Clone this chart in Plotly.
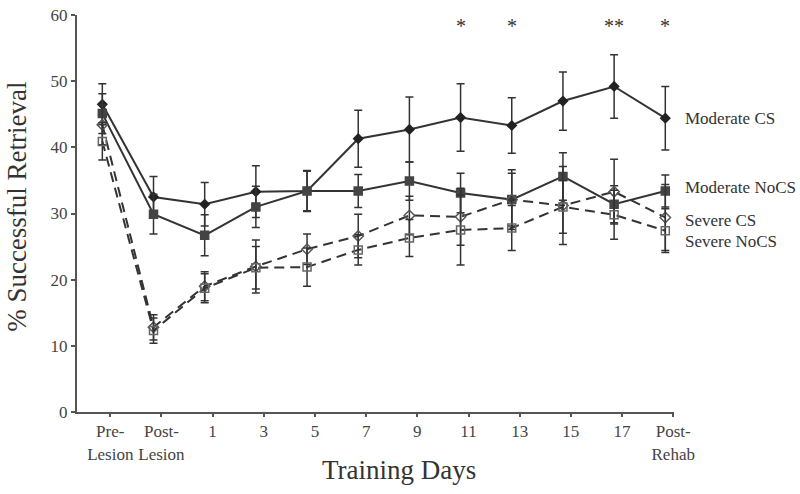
import plotly.graph_objects as go

# ---- data ----
categories = ["Pre-<br>Lesion", "Post-<br>Lesion", "1", "3", "5", "7", "9", "11", "13", "15", "17", "Post-<br>Rehab"]

moderate_cs = [46.5, 32.5, 31.4, 33.3, 33.4, 41.3, 42.7, 44.5, 43.3, 47.0, 49.2, 44.4]
moderate_cs_err = [3.1, 3.1, 3.3, 3.9, 3.1, 4.3, 4.9, 5.1, 4.2, 4.4, 4.8, 4.8]

moderate_nocs = [45.1, 29.9, 26.7, 31.0, 33.4, 33.4, 34.9, 33.1, 32.1, 35.6, 31.4, 33.4]
moderate_nocs_err = [3.0, 3.0, 3.1, 3.1, 3.0, 2.5, 2.9, 3.0, 4.0, 3.6, 2.8, 2.4]

severe_cs = [43.4, 12.8, 19.0, 22.0, 24.6, 26.6, 29.7, 29.5, 32.1, 31.2, 33.3, 29.4]
severe_cs_err = [3.0, 1.9, 2.2, 4.0, 2.3, 3.3, 2.9, 4.3, 4.5, 5.9, 4.9, 5.0]

severe_nocs = [40.9, 12.3, 18.7, 21.8, 21.9, 24.5, 26.3, 27.5, 27.8, 31.0, 29.8, 27.4]
severe_nocs_err = [2.8, 1.9, 2.2, 3.2, 2.9, 2.3, 2.8, 5.3, 3.4, 4.0, 3.7, 3.3]

series_names = ["Moderate CS", "Moderate NoCS", "Severe CS", "Severe NoCS"]
# vertical placement of end labels (axis units)
label_y = [44.3, 34.0, 28.9, 25.8]

# significance markers
sig_categories = [7, 8, 10, 11]
sig_text = ["*", "*", "**", "*"]

x_idx = list(range(len(categories)))

fig = go.Figure()

font_family = "Liberation Serif, Times New Roman, serif"
ink = "#333333"

specs = [
    (moderate_cs, moderate_cs_err, "solid", "diamond", 7, "#222222"),
    (moderate_nocs, moderate_nocs_err, "solid", "square", 8, "#444444"),
    (severe_cs, severe_cs_err, "10px,6px", "diamond-open", 8, "#555555"),
    (severe_nocs, severe_nocs_err, "10px,6px", "square-open", 8, "#666666"),
]

for name, (vals, errs, dash, sym, size, mcol) in zip(series_names, specs):
    fig.add_trace(go.Scatter(
        x=x_idx, y=vals, name=name, mode="lines+markers",
        line=dict(color="#333333", width=2, dash=dash),
        marker=dict(symbol=sym, size=size, color=mcol, line=dict(color=mcol, width=1.5)),
        error_y=dict(type="data", array=errs, visible=True, thickness=1.5, width=4, color="#333333"),
        showlegend=False,
    ))

# end-of-line labels
for name, ly in zip(series_names, label_y):
    fig.add_annotation(x=1.015, y=ly, xref="paper", yref="y", text=name, showarrow=False,
                       xanchor="left", yanchor="middle",
                       font=dict(family=font_family, size=17, color=ink))

# asterisks
for ci, t in zip(sig_categories, sig_text):
    fig.add_annotation(x=ci, y=58.3, xref="x", yref="y", text=t, showarrow=False,
                       xanchor="center", yanchor="middle",
                       font=dict(family=font_family, size=20, color="#333333"))

# axis titles
fig.add_annotation(x=0.539, y=-0.146, xref="paper", yref="paper", text="Training Days",
                   showarrow=False, xanchor="center", yanchor="middle",
                   font=dict(family=font_family, size=27, color=ink))
fig.add_annotation(x=-0.101, y=0.516, xref="paper", yref="paper", text="% Successful Retrieval",
                   showarrow=False, xanchor="center", yanchor="middle", textangle=-90,
                   font=dict(family=font_family, size=27, color=ink))

fig.update_layout(
    template="none",
    width=800, height=494,
    margin=dict(l=77, r=126, t=15, b=82, pad=0, autoexpand=False),
    paper_bgcolor="white", plot_bgcolor="white",
    font=dict(family=font_family, size=17, color=ink),
    xaxis=dict(
        range=[-0.495, 11.17],
        tickmode="array",
        tickvals=[i + 0.155 for i in x_idx],
        ticktext=categories,
        showline=True, linecolor="#555555", linewidth=2,
        ticks="outside", ticklen=3, tickwidth=1.5, tickcolor="#555555",
        showgrid=False, zeroline=False, ticklabeloverflow="allow", automargin=False,
        tickfont=dict(family=font_family, size=17, color="#444444"),
    ),
    yaxis=dict(
        range=[0, 60],
        tickmode="array", tickvals=[0, 10, 20, 30, 40, 50, 60],
        showline=True, linecolor="#555555", linewidth=2,
        ticks="outside", ticklen=4, tickwidth=1.5, tickcolor="#555555",
        showgrid=False, zeroline=False, ticklabeloverflow="allow", automargin=False,
        tickfont=dict(family=font_family, size=17, color="#444444"),
    ),
)

fig.write_html("out.html", config={"displayModeBar": False},
               post_script="document.body.style.margin='0';document.body.style.overflow='hidden';")
